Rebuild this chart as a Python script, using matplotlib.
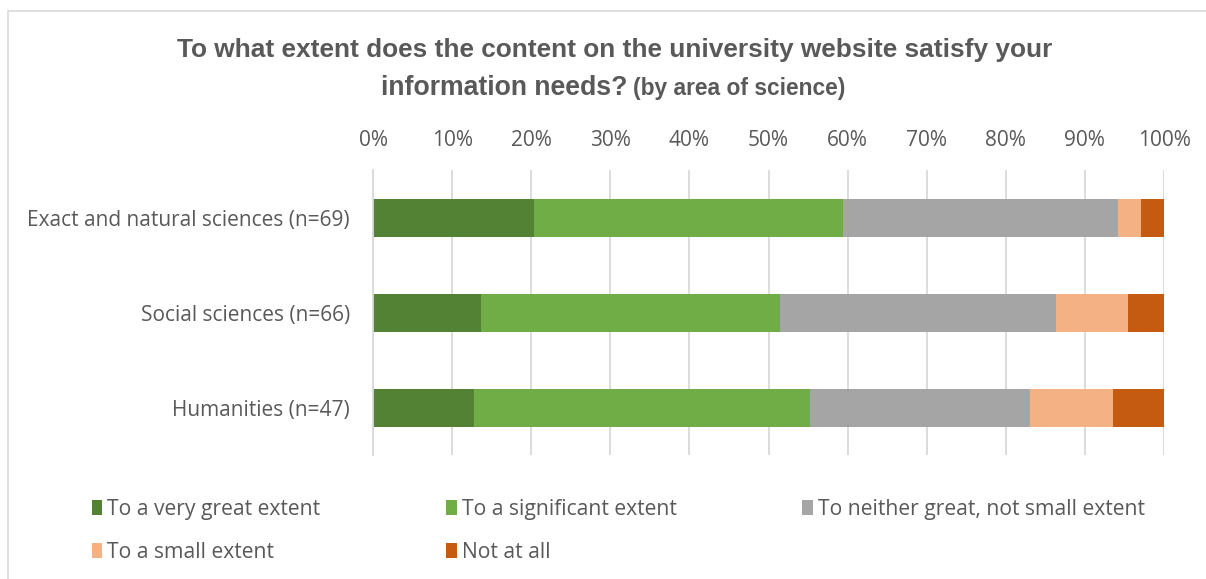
import matplotlib
matplotlib.use('Agg')
import matplotlib.pyplot as plt
from matplotlib.patches import Rectangle, Patch

# datos de la encuesta (porcentaje por area)
areas = ['Exact and natural sciences (n=69)', 'Social sciences (n=66)', 'Humanities (n=47)']
respuestas = ['To a very great extent', 'To a significant extent',
              'To neither great, not small extent', 'To a small extent', 'Not at all']
muy_grande = [20.3, 13.6, 12.8]
significativo = [39.1, 37.9, 42.5]
ni_ni = [34.8, 34.9, 27.7]
pequeno = [2.9, 9.1, 10.6]
nada = [2.9, 4.5, 6.4]
ticks_pct = [0, 10, 20, 30, 40, 50, 60, 70, 80, 90, 100]

colores = ['#548235', '#70ad47', '#a5a5a5', '#f4b183', '#c55a11']
series = [muy_grande, significativo, ni_ni, pequeno, nada]
gris = '#595959'

fig = plt.figure(figsize=(12.06, 5.79), dpi=100)
W, H = 1206, 579
ax = fig.add_axes([373 / W, 1 - 455 / H, (1164 - 373) / W, (455 - 170) / H])

# marco del grafico
fig.patches.append(Rectangle((8 / W, -0.1), 1.2, 1 - 11 / H + 0.1, transform=fig.transFigure,
                             fill=False, edgecolor='#d9d9d9', linewidth=1.2))

ypos = list(range(len(areas)))
izq = [0, 0, 0]
for vals, col in zip(series, colores):
    ax.barh(ypos, vals, left=izq, height=0.4, color=col, edgecolor='none')
    izq = [a + b for a, b in zip(izq, vals)]

ax.set_xlim(0, 100)
ax.set_ylim(2.5, -0.5)
ax.set_xticks(ticks_pct)
ax.set_xticklabels([f'{t}%' for t in ticks_pct], fontsize=15, color=gris, family='Open Sans')
ax.xaxis.tick_top()
ax.tick_params(axis='x', length=0, pad=14)
ax.set_yticks(ypos)
ax.set_yticklabels(areas, fontsize=15, color=gris, family='Open Sans')
ax.tick_params(axis='y', length=0, pad=16.5)
ax.grid(axis='x', color='#d9d9d9', linewidth=1.3)
ax.set_axisbelow(True)
for s in ['top', 'right', 'bottom']:
    ax.spines[s].set_visible(False)
ax.spines['left'].set_color('#d9d9d9')
ax.spines['left'].set_linewidth(1.3)

# titulo en dos lineas
fig.text(615 / W, 1 - 50 / H, 'To what extent does the content on the university website satisfy your',
         ha='center', va='center', fontsize=18.9, fontweight='bold', color=gris,
         family='Liberation Sans')
fig.text(627 / W, 1 - 88 / H, 'information needs?', ha='right', va='center', fontsize=19.2,
         fontweight='bold', color=gris, family='Liberation Sans')
fig.text(633 / W, 1 - 89 / H, '(by area of science)', ha='left', va='center', fontsize=16.4,
         fontweight='bold', color=gris, family='Liberation Sans')

# leyenda (orden por filas)
orden = [0, 3, 1, 4, 2]
handles = [Patch(facecolor=colores[i], edgecolor='none') for i in orden]
leg = fig.legend(handles, [respuestas[i] for i in orden], loc='center left',
                 bbox_to_anchor=(81 / W, 1 - 531 / H), ncol=3, frameon=False,
                 prop={'family': 'Open Sans', 'size': 15.2},
                 handlelength=0.5, handleheight=0.7, handletextpad=0.25,
                 columnspacing=5.95, labelspacing=1.05, borderpad=0)
for t in leg.get_texts():
    t.set_color(gris)

fig.savefig('out.png', dpi=100)
